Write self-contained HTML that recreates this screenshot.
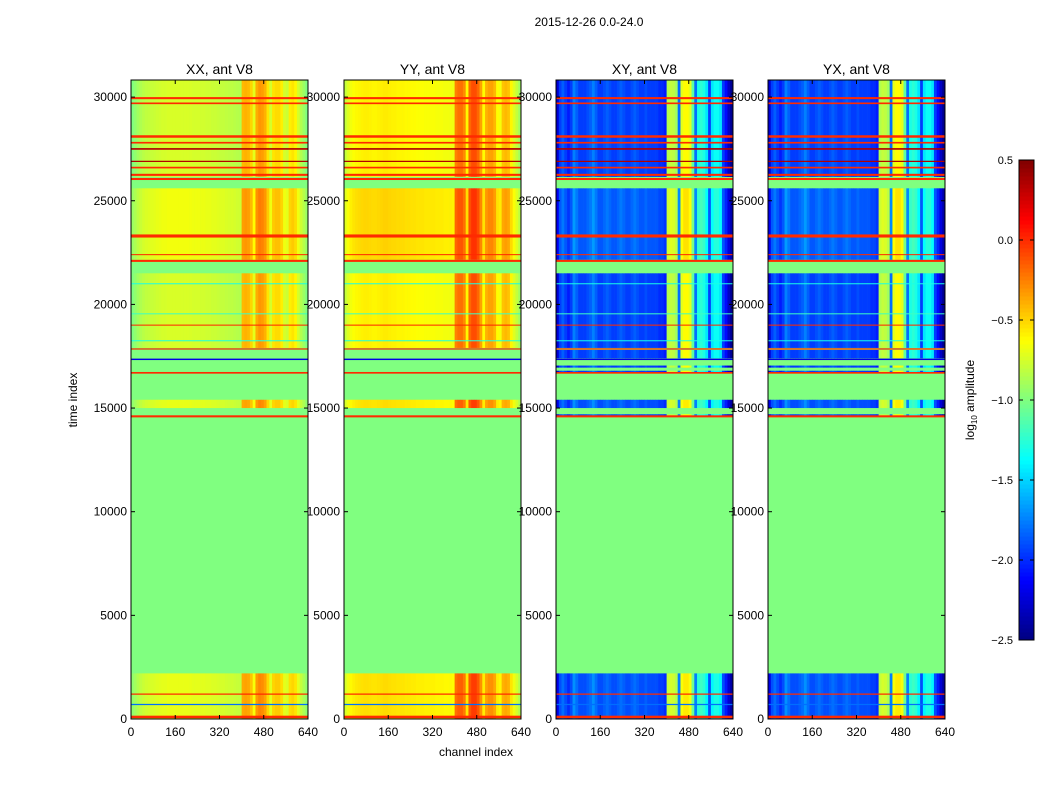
<!DOCTYPE html>
<html><head><meta charset="utf-8"><style>
body{margin:0;background:#fff;}
svg text{font-family:"Liberation Sans",sans-serif;}
</style></head><body>
<svg id="fig" width="1050" height="800" xmlns="http://www.w3.org/2000/svg">
<text x="589" y="26" font-size="12" text-anchor="middle">2015-12-26 0.0-24.0</text>
<g id="panels"></g>
<text transform="translate(77,400) rotate(-90)" font-size="12" text-anchor="middle">time index</text>
<text x="476" y="756" font-size="12" text-anchor="middle">channel index</text>
<g id="cbar"></g>
<text transform="translate(974,400) rotate(-90)" font-size="12" text-anchor="middle">log<tspan font-size="8" dy="3">10</tspan><tspan dy="-3"> amplitude</tspan></text>
</svg>
<script>
const titles=["XX, ant V8","YY, ant V8","XY, ant V8","YX, ant V8"];
const xTicks=[0,160,320,480,640];
const yTicks=[0,5000,10000,15000,20000,25000,30000];
const cbTicks=[0.5,0.0,-0.5,-1.0,-1.5,-2.0,-2.5];
// per-channel profiles (64 bins of 10 channels), log10 amplitude
const profXX=[-1.0,-0.95,-0.9,-0.86,-0.83,-0.81,-0.8,-0.79,-0.78,-0.77,-0.76,-0.75,-0.75,-0.74,-0.74,-0.74,-0.74,-0.74,-0.74,-0.74,-0.74,-0.74,-0.75,-0.75,-0.75,-0.76,-0.76,-0.77,-0.77,-0.78,-0.78,-0.79,-0.8,-0.8,-0.81,-0.82,-0.82,-0.83,-0.84,-0.85,-0.42,-0.4,-0.42,-0.5,-0.7,-0.38,-0.32,-0.34,-0.4,-0.55,-0.75,-0.55,-0.52,-0.52,-0.58,-0.75,-0.78,-0.58,-0.55,-0.6,-0.75,-0.85,-0.92,-1.0];
const profYY=[-0.8,-0.72,-0.66,-0.63,-0.61,-0.6,-0.59,-0.58,-0.58,-0.59,-0.6,-0.6,-0.59,-0.58,-0.57,-0.57,-0.58,-0.59,-0.59,-0.6,-0.6,-0.6,-0.61,-0.61,-0.62,-0.62,-0.63,-0.63,-0.63,-0.64,-0.64,-0.64,-0.64,-0.65,-0.65,-0.65,-0.66,-0.66,-0.66,-0.67,-0.25,-0.2,-0.2,-0.28,-0.6,-0.18,-0.1,-0.1,-0.18,-0.35,-0.62,-0.4,-0.35,-0.35,-0.42,-0.62,-0.65,-0.45,-0.42,-0.45,-0.6,-0.72,-0.8,-0.9];
const profXY=[-2.25,-1.95,-1.85,-1.95,-2.05,-1.95,-1.75,-1.85,-1.95,-1.95,-1.95,-1.9,-1.85,-1.75,-1.85,-1.95,-1.95,-1.9,-1.85,-1.9,-1.95,-1.95,-1.9,-1.85,-1.9,-1.95,-1.95,-1.9,-1.85,-1.9,-1.95,-1.95,-1.9,-1.95,-1.95,-1.95,-1.95,-2.0,-2.0,-2.05,-0.85,-0.8,-0.82,-0.9,-1.8,-0.7,-0.62,-0.62,-0.7,-1.1,-1.8,-1.3,-1.25,-1.3,-1.45,-1.95,-1.45,-1.35,-1.35,-1.45,-1.95,-2.1,-2.3,-2.45];
const profs=[profXX,profYY,profXY,profXY];
// data blocks
const blockStart=[0,14600,15000,16700,16950,17400,17900,22150,26150];
const blockEnd=[2200,14700,15400,16800,17050,17800,21500,25600,30800];
const blockOff=[0.05,0.0,0.05,0.0,0.0,0.0,0.0,0.08,0.0];
const blockCross=[0,1,0,1,1,1,0,0,0];
// horizontal lines
const lineT=[29950,29700,28100,27800,27500,26900,26600,26250,26050,23300,22400,22100,19000,17850,16700,14600,17350,700,1200,100,18250,21000,19550];
const lineW=[100,80,120,80,80,60,80,100,100,150,50,100,50,60,80,100,70,60,60,120,40,40,40];
const lineV=[0.0,0.0,0.0,0.0,0.35,0.35,0.0,0.0,0.0,0.0,0.0,0.0,0.0,0.0,0.0,0.0,-2.2,-1.8,0.0,0.0,-1.3,-1.3,-1.2];
const vmin=-2.5,vmax=0.5,tMax=30825;
function jet(v){let x=(v-vmin)/(vmax-vmin);x=Math.max(0,Math.min(1,x));
 const c=f=>Math.round(255*Math.max(0,Math.min(1,f)));
 return `rgb(${c(1.5-Math.abs(4*x-3))},${c(1.5-Math.abs(4*x-2))},${c(1.5-Math.abs(4*x-1))})`;}
const NS="http://www.w3.org/2000/svg";
function mk(t,a,p){const e=document.createElementNS(NS,t);for(const k in a)e.setAttribute(k,a[k]);p.appendChild(e);return e;}
const lefts=[131,344,556,768],PW=177,pTop=80,pBot=719;
const P=document.getElementById('panels');
const yS=t=>pBot-t/tMax*(pBot-pTop);
titles.forEach((ti,pi)=>{
 const L=lefts[pi];const xS=ch=>L+ch/640*PW;
 const g=mk('g',{},P);
 
 
 mk('rect',{x:L,y:pTop,width:PW,height:pBot-pTop,fill:jet(-1.0)},g);
 const cross=pi>=2;const prof=profs[pi];
 blockStart.forEach((s,bi)=>{
  if(blockCross[bi]&&!cross)return;
  const y0=yS(blockEnd[bi]),y1=yS(s);
  prof.forEach((v,ci)=>{
   const r=mk('rect',{x:xS(ci*10),y:y0,width:PW/64+0.3,height:y1-y0,fill:jet(v+blockOff[bi])},g);
   
   
  });
 });
 lineT.forEach((t,li)=>{
  const y0=yS(t+lineW[li]/2),y1=yS(t-lineW[li]/2);
  const r=mk('rect',{x:L,y:y0,width:PW,height:Math.max(1,y1-y0),fill:jet(lineV[li])},g);
  
  
 });
 mk('rect',{x:L,y:pTop,width:PW,height:pBot-pTop,fill:'none',stroke:'#000','stroke-width':1},g);
 const tt=mk('text',{x:L+PW/2,y:74,'font-size':14,'text-anchor':'middle'},g);tt.textContent=ti;
 
 
 xTicks.forEach(v=>{const x=xS(v);
  mk('line',{x1:x,x2:x,y1:pBot,y2:pBot-4,stroke:'#000'},g);mk('line',{x1:x,x2:x,y1:pTop,y2:pTop+4,stroke:'#000'},g);
  const t=mk('text',{x:x,y:736,'font-size':12,'text-anchor':'middle'},g);t.textContent=v;
  
  });
 yTicks.forEach(v=>{const y=yS(v);
  mk('line',{x1:L,x2:L+4,y1:y,y2:y,stroke:'#000'},g);mk('line',{x1:L+PW,x2:L+PW-4,y1:y,y2:y,stroke:'#000'},g);
  const t=mk('text',{x:L-4,y:y+4,'font-size':12,'text-anchor':'end'},g);t.textContent=v;
  
  });
});
const C=document.getElementById('cbar');const cx=1019,cw=15,ct=160,cb=640;
const cbY=v=>cb-(v-vmin)/(vmax-vmin)*(cb-ct);
for(let i=0;i<120;i++){const v0=vmin+i*(vmax-vmin)/120,v1=vmin+(i+1)*(vmax-vmin)/120;
 const r=mk('rect',{x:cx,y:cbY(v1),width:cw,height:cbY(v0)-cbY(v1)+0.5,fill:jet((v0+v1)/2)},C);
 
 }
mk('rect',{x:cx,y:ct,width:cw,height:cb-ct,fill:'none',stroke:'#000'},C);
cbTicks.forEach(v=>{const y=cbY(v);
 mk('line',{x1:cx,x2:cx+4,y1:y,y2:y,stroke:'#000'},C);mk('line',{x1:cx+cw,x2:cx+cw-4,y1:y,y2:y,stroke:'#000'},C);
 const t=mk('text',{x:1013,y:y+4,'font-size':11,'text-anchor':'end'},C);t.textContent=v.toFixed(1).replace('-','\u2212');
 
 });
</script>
</body></html>
